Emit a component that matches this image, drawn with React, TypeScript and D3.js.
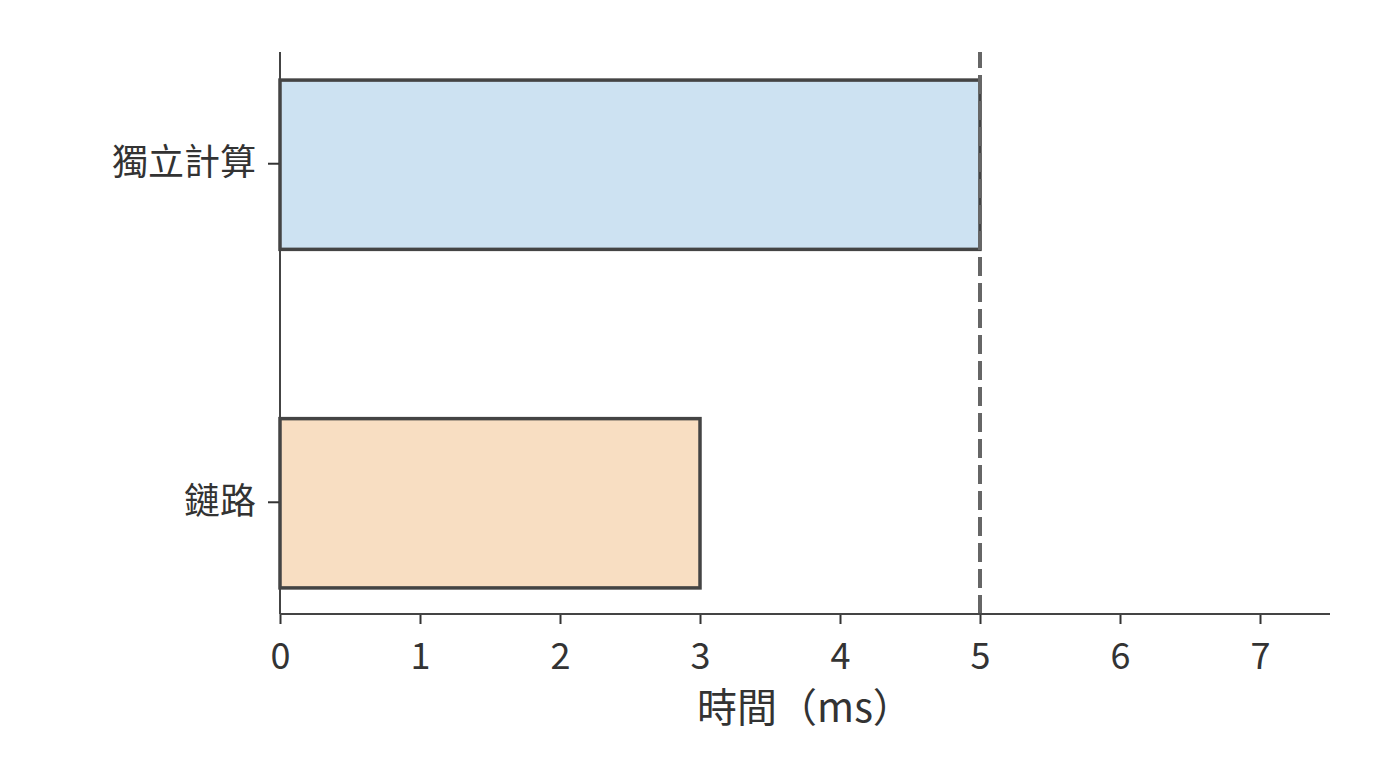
import React, { useEffect, useRef } from 'react';
import * as d3 from 'd3';

const width = 1400;
const height = 768;
const margin = { top: 52, right: 70, bottom: 154, left: 280 };

const categories = ['獨立計算', '鏈路'];
const times = [5, 3];
const barColors = ['#cde2f2', '#f8dec2'];
const xTicks = [0, 1, 2, 3, 4, 5, 6, 7];
const xMax = 7.5;
const refTime = 5;
const xLabel = '時間（ms）';

const font = '"Noto Sans CJK TC", "Noto Sans", sans-serif';

export default function App() {
  const ref = useRef<SVGSVGElement>(null);

  useEffect(() => {
    document.body.style.margin = '0';
    if (!ref.current) return;
    const root = d3.select(ref.current);
    root.selectAll('*').remove();

    const innerW = width - margin.left - margin.right;
    const innerH = height - margin.top - margin.bottom;

    const svg = root
      .append('g')
      .attr('transform', `translate(${margin.left}, ${margin.top})`);

    const x = d3.scaleLinear().domain([0, xMax]).range([0, innerW]);
    const y = d3
      .scaleBand<string>()
      .domain(categories)
      .range([0, innerH])
      .paddingInner(0.5)
      .paddingOuter(0.08);

    // bars
    svg
      .selectAll('rect.bar')
      .data(categories)
      .enter()
      .append('rect')
      .attr('class', 'bar')
      .attr('x', x(0))
      .attr('y', (d) => (y(d) ?? 0) + 1)
      .attr('width', (_, i) => x(times[i]) - x(0))
      .attr('height', y.bandwidth())
      .attr('fill', (_, i) => barColors[i])
      .attr('stroke', '#444')
      .attr('stroke-width', 3.5);

    // reference line
    svg
      .append('line')
      .attr('x1', x(refTime))
      .attr('x2', x(refTime))
      .attr('y1', innerH)
      .attr('y2', 0)
      .attr('stroke', '#666')
      .attr('stroke-width', 4)
      .attr('stroke-dasharray', '19 7');

    // x axis
    const xAxis = svg
      .append('g')
      .attr('transform', `translate(0, ${innerH})`)
      .call(d3.axisBottom(x).tickValues(xTicks).tickFormat(d3.format('d')).tickSize(10).tickPadding(19));
    xAxis.select('.domain').remove();
    xAxis
      .append('line')
      .attr('x1', 0)
      .attr('x2', innerW)
      .attr('stroke', '#444')
      .attr('stroke-width', 2);
    xAxis.selectAll('.tick line').attr('stroke', '#333').attr('stroke-width', 2);
    xAxis
      .selectAll('.tick text')
      .attr('fill', '#333')
      .style('font-family', font)
      .style('font-size', '36px');

    // y axis
    const yAxis = svg
      .append('g')
      .call(d3.axisLeft(y).tickSize(12).tickPadding(12));
    yAxis.select('.domain').remove();
    yAxis
      .append('line')
      .attr('y1', 0)
      .attr('y2', innerH)
      .attr('stroke', '#444')
      .attr('stroke-width', 2);
    yAxis.selectAll('.tick line').attr('stroke', '#333').attr('stroke-width', 2);
    yAxis
      .selectAll('.tick text')
      .attr('fill', '#333')
      .style('font-family', font)
      .style('font-size', '36px');

    // x label
    svg
      .append('text')
      .attr('x', innerW / 2)
      .attr('y', innerH + 108)
      .attr('text-anchor', 'middle')
      .attr('fill', '#333')
      .style('font-family', font)
      .style('font-size', '40px')
      .text(xLabel);
  }, []);

  return <svg ref={ref} width={width} height={height} style={{ display: 'block', background: '#fff' }} />;
}
